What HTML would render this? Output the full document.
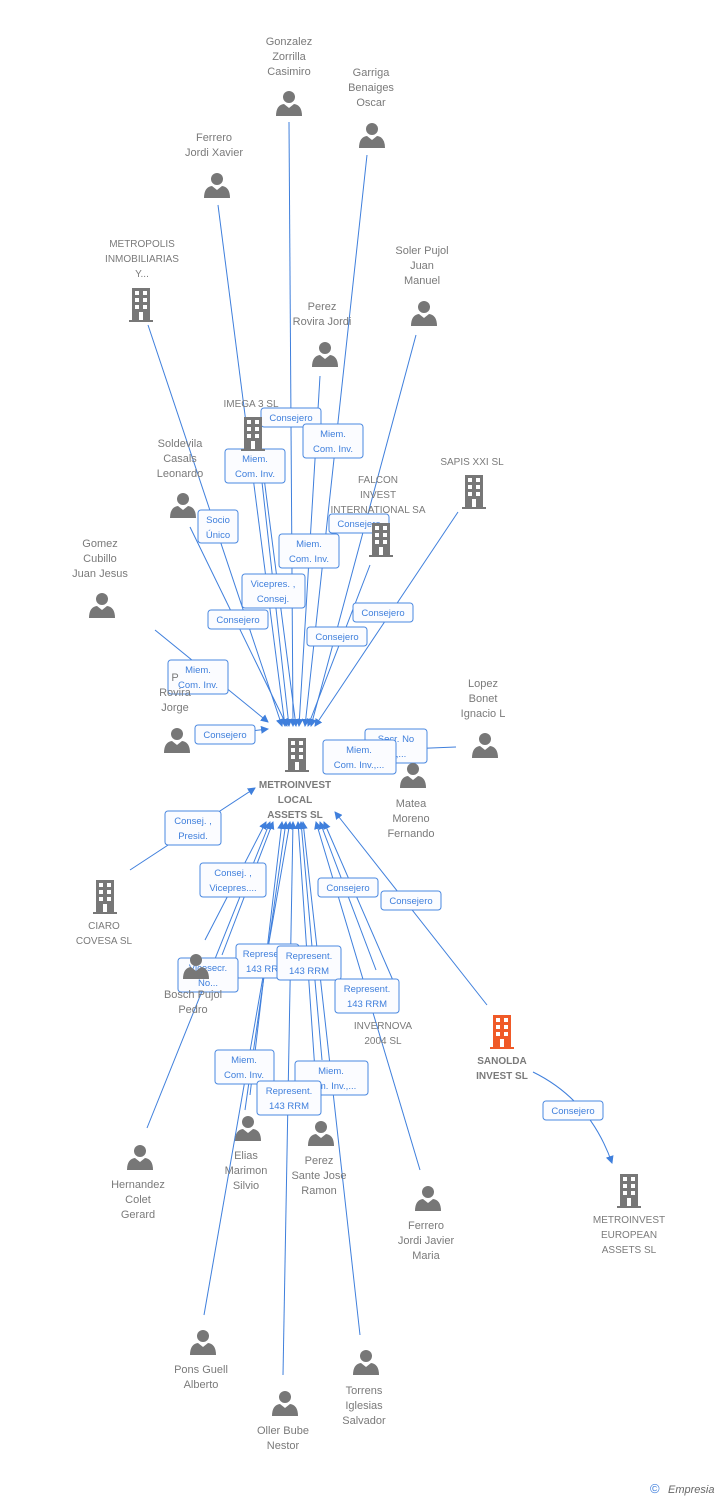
<!DOCTYPE html>
<html><head><meta charset="utf-8"><style>
html,body{margin:0;padding:0;background:#fff;}
svg{display:block;font-family:"Liberation Sans",sans-serif;}
.t{fill:#7a7a7a;font-size:11px;text-anchor:middle;}
.tb{fill:#7a7a7a;font-size:11px;text-anchor:middle;font-weight:bold;}
.l{stroke:#3f7fdc;stroke-width:1;fill:none;}
.bx{fill:#fbfcff;stroke:#4a88e0;stroke-width:1;}
.bt{fill:#3f7fdc;font-size:9.5px;text-anchor:middle;}
</style></head><body>
<svg width="728" height="1500" viewBox="0 0 728 1500">
<defs>
<symbol id="p" viewBox="0 0 26 26"><circle cx="13" cy="7" r="6" fill="#777"/><path d="M0 26 Q0 15 8 14 L13 18 L18 14 Q26 15 26 26Z" fill="#777"/></symbol>
<symbol id="b" viewBox="0 0 24 34"><rect x="3" y="0" width="18" height="32" fill="#777"/><rect x="0" y="32" width="24" height="2" fill="#777"/>
<g fill="#fff"><rect x="6" y="3" width="4" height="4"/><rect x="14" y="3" width="4" height="4"/><rect x="6" y="10" width="4" height="4"/><rect x="14" y="10" width="4" height="4"/><rect x="6" y="17" width="4" height="4"/><rect x="14" y="17" width="4" height="4"/><rect x="10" y="24" width="4" height="8"/></g></symbol>
<symbol id="bo" viewBox="0 0 24 34"><rect x="3" y="0" width="18" height="32" fill="#f05a28"/><rect x="0" y="32" width="24" height="2" fill="#f05a28"/>
<g fill="#fff"><rect x="6" y="3" width="4" height="4"/><rect x="14" y="3" width="4" height="4"/><rect x="6" y="10" width="4" height="4"/><rect x="14" y="10" width="4" height="4"/><rect x="6" y="17" width="4" height="4"/><rect x="14" y="17" width="4" height="4"/><rect x="10" y="24" width="4" height="8"/></g></symbol>
<marker id="a" markerWidth="8" markerHeight="8" refX="7" refY="4" orient="auto" markerUnits="userSpaceOnUse"><path d="M0 0 L8 4 L0 8Z" fill="#3f7fdc"/></marker>
</defs>

<!-- top edges -->
<g class="l" marker-end="url(#a)">
<line x1="289" y1="122" x2="293" y2="726"/>
<line x1="367" y1="155" x2="305" y2="726"/>
<line x1="218" y1="205" x2="285" y2="726"/>
<line x1="148" y1="325" x2="282" y2="726"/>
<line x1="416" y1="335" x2="311" y2="726"/>
<line x1="320" y1="376" x2="299" y2="726"/>
<line x1="259" y1="455" x2="289" y2="726"/>
<line x1="263" y1="470" x2="296" y2="726"/>
<line x1="190" y1="527" x2="287" y2="726"/>
<line x1="458" y1="512" x2="315" y2="726"/>
<line x1="370" y1="565" x2="308" y2="726"/>
<line x1="155" y1="630" x2="268" y2="722"/>
<line x1="200" y1="737" x2="268" y2="729"/>
<line x1="456" y1="747" x2="330" y2="752"/>
</g>
<!-- bottom edges -->
<g class="l" marker-end="url(#a)">
<line x1="130" y1="870" x2="255" y2="788"/>
<line x1="205" y1="940" x2="266" y2="822"/>
<line x1="222" y1="955" x2="273" y2="822"/>
<line x1="147" y1="1128" x2="270" y2="822"/>
<line x1="250" y1="1095" x2="282" y2="822"/>
<line x1="245" y1="1110" x2="286" y2="822"/>
<line x1="204" y1="1315" x2="290" y2="822"/>
<line x1="283" y1="1375" x2="293" y2="822"/>
<line x1="318" y1="1115" x2="298" y2="822"/>
<line x1="322" y1="1060" x2="301" y2="822"/>
<line x1="360" y1="1335" x2="303" y2="822"/>
<line x1="420" y1="1170" x2="316" y2="822"/>
<line x1="376" y1="970" x2="320" y2="822"/>
<line x1="395" y1="985" x2="324" y2="822"/>
<line x1="487" y1="1005" x2="335" y2="812"/>
<path d="M533 1072 Q590 1100 612 1163"/>
</g>

<!-- labels boxes -->
<g>
<rect class="bx" x="261" y="408" width="60" height="19" rx="3"/><text class="bt" x="291" y="421">Consejero</text>
<rect class="bx" x="303" y="424" width="60" height="34" rx="3"/><text class="bt" x="333" y="437">Miem.</text><text class="bt" x="333" y="452">Com. Inv.</text>
<rect class="bx" x="225" y="449" width="60" height="34" rx="3"/><text class="bt" x="255" y="462">Miem.</text><text class="bt" x="255" y="477">Com. Inv.</text>
<rect class="bx" x="198" y="510" width="40" height="33" rx="3"/><text class="bt" x="218" y="523">Socio</text><text class="bt" x="218" y="538">Único</text>
<rect class="bx" x="329" y="514" width="60" height="19" rx="3"/><text class="bt" x="359" y="527">Consejero</text>
<rect class="bx" x="279" y="534" width="60" height="34" rx="3"/><text class="bt" x="309" y="547">Miem.</text><text class="bt" x="309" y="562">Com. Inv.</text>
<rect class="bx" x="242" y="574" width="63" height="34" rx="3"/><text class="bt" x="273" y="587">Vicepres. ,</text><text class="bt" x="273" y="602">Consej.</text>
<rect class="bx" x="353" y="603" width="60" height="19" rx="3"/><text class="bt" x="383" y="616">Consejero</text>
<rect class="bx" x="208" y="610" width="60" height="19" rx="3"/><text class="bt" x="238" y="623">Consejero</text>
<rect class="bx" x="307" y="627" width="60" height="19" rx="3"/><text class="bt" x="337" y="640">Consejero</text>
<rect class="bx" x="168" y="660" width="60" height="34" rx="3"/><text class="bt" x="198" y="673">Miem.</text><text class="bt" x="198" y="688">Com. Inv.</text>
<rect class="bx" x="195" y="725" width="60" height="19" rx="3"/><text class="bt" x="225" y="738">Consejero</text>
<rect class="bx" x="365" y="729" width="62" height="34" rx="3"/><text class="bt" x="396" y="742">Secr.   No</text><text class="bt" x="396" y="757">ej.,...</text>
<rect class="bx" x="323" y="740" width="73" height="34" rx="3"/><text class="bt" x="359" y="753">Miem.</text><text class="bt" x="359" y="768">Com. Inv.,...</text>
<rect class="bx" x="165" y="811" width="56" height="34" rx="3"/><text class="bt" x="193" y="824">Consej. ,</text><text class="bt" x="193" y="839">Presid.</text>
<rect class="bx" x="200" y="863" width="66" height="34" rx="3"/><text class="bt" x="233" y="876">Consej. ,</text><text class="bt" x="233" y="891">Vicepres....</text>
<rect class="bx" x="318" y="878" width="60" height="19" rx="3"/><text class="bt" x="348" y="891">Consejero</text>
<rect class="bx" x="381" y="891" width="60" height="19" rx="3"/><text class="bt" x="411" y="904">Consejero</text>
<rect class="bx" x="236" y="944" width="63" height="34" rx="3"/><text class="bt" x="266" y="957">Represent.</text><text class="bt" x="266" y="972">143 RRM</text>
<rect class="bx" x="178" y="958" width="60" height="34" rx="3"/><text class="bt" x="208" y="971">Vicesecr.</text><text class="bt" x="208" y="986">No...</text>
<rect class="bx" x="277" y="946" width="64" height="34" rx="3"/><text class="bt" x="309" y="959">Represent.</text><text class="bt" x="309" y="974">143 RRM</text>
<rect class="bx" x="335" y="979" width="64" height="34" rx="3"/><text class="bt" x="367" y="992">Represent.</text><text class="bt" x="367" y="1007">143 RRM</text>
<rect class="bx" x="215" y="1050" width="59" height="34" rx="3"/><text class="bt" x="244" y="1063">Miem.</text><text class="bt" x="244" y="1078">Com. Inv.</text>
<rect class="bx" x="295" y="1061" width="73" height="34" rx="3"/><text class="bt" x="331" y="1074">Miem.</text><text class="bt" x="331" y="1089">Com. Inv.,...</text>
<rect class="bx" x="257" y="1081" width="64" height="34" rx="3"/><text class="bt" x="289" y="1094">Represent.</text><text class="bt" x="289" y="1109">143 RRM</text>
<rect class="bx" x="543" y="1101" width="60" height="19" rx="3"/><text class="bt" x="573" y="1114">Consejero</text>
</g>

<!-- nodes -->
<use href="#p" x="276" y="90" width="26" height="26"/>
<text class="t" x="289" y="45">Gonzalez</text><text class="t" x="289" y="60">Zorrilla</text><text class="t" x="289" y="75">Casimiro</text>
<use href="#p" x="359" y="122" width="26" height="26"/>
<text class="t" x="371" y="76">Garriga</text><text class="t" x="371" y="91">Benaiges</text><text class="t" x="371" y="106">Oscar</text>
<use href="#p" x="204" y="172" width="26" height="26"/>
<text class="t" x="214" y="141">Ferrero</text><text class="t" x="214" y="156">Jordi Xavier</text>
<use href="#b" x="129" y="288" width="24" height="34"/>
<text class="t" x="142" y="247" style="font-size:10px">METROPOLIS</text><text class="t" x="142" y="262" style="font-size:10px">INMOBILIARIAS</text><text class="t" x="142" y="277" style="font-size:10px">Y...</text>
<use href="#p" x="411" y="300" width="26" height="26"/>
<text class="t" x="422" y="254">Soler Pujol</text><text class="t" x="422" y="269">Juan</text><text class="t" x="422" y="284">Manuel</text>
<use href="#p" x="312" y="341" width="26" height="26"/>
<text class="t" x="322" y="310">Perez</text><text class="t" x="322" y="325">Rovira Jordi</text>
<use href="#b" x="241" y="417" width="24" height="34"/>
<text class="t" x="251" y="407" style="font-size:10px">IMEGA 3 SL</text>
<use href="#p" x="170" y="492" width="26" height="26"/>
<text class="t" x="180" y="447">Soldevila</text><text class="t" x="180" y="462">Casals</text><text class="t" x="180" y="477">Leonardo</text>
<use href="#b" x="462" y="475" width="24" height="34"/>
<text class="t" x="472" y="465" style="font-size:10px">SAPIS XXI SL</text>
<use href="#b" x="369" y="523" width="24" height="34"/>
<text class="t" x="378" y="483" style="font-size:10px">FALCON</text><text class="t" x="378" y="498" style="font-size:10px">INVEST</text><text class="t" x="378" y="513" style="font-size:10px">INTERNATIONAL SA</text>
<use href="#p" x="89" y="592" width="26" height="26"/>
<text class="t" x="100" y="547">Gomez</text><text class="t" x="100" y="562">Cubillo</text><text class="t" x="100" y="577">Juan Jesus</text>
<use href="#p" x="164" y="727" width="26" height="26"/>
<text class="t" x="175" y="681">P</text><text class="t" x="175" y="696">Rovira</text><text class="t" x="175" y="711">Jorge</text>
<use href="#p" x="472" y="732" width="26" height="26"/>
<text class="t" x="483" y="687">Lopez</text><text class="t" x="483" y="702">Bonet</text><text class="t" x="483" y="717">Ignacio L</text>
<use href="#p" x="400" y="762" width="26" height="26"/>
<text class="t" x="411" y="807">Matea</text><text class="t" x="411" y="822">Moreno</text><text class="t" x="411" y="837">Fernando</text>
<use href="#b" x="285" y="738" width="24" height="34"/>
<text class="tb" x="295" y="788" style="font-size:10px">METROINVEST</text><text class="tb" x="295" y="803" style="font-size:10px">LOCAL</text><text class="tb" x="295" y="818" style="font-size:10px">ASSETS SL</text>
<use href="#b" x="93" y="880" width="24" height="34"/>
<text class="t" x="104" y="929" style="font-size:10px">CIARO</text><text class="t" x="104" y="944" style="font-size:10px">COVESA SL</text>
<use href="#p" x="183" y="953" width="26" height="26"/>
<text class="t" x="193" y="998">Bosch Pujol</text><text class="t" x="193" y="1013">Pedro</text>
<text class="t" x="383" y="1029" style="font-size:10px">INVERNOVA</text><text class="t" x="383" y="1044" style="font-size:10px">2004  SL</text>
<use href="#bo" x="490" y="1015" width="24" height="34"/>
<text class="tb" x="502" y="1064" style="font-size:10px">SANOLDA</text><text class="tb" x="502" y="1079" style="font-size:10px">INVEST SL</text>
<use href="#p" x="127" y="1144" width="26" height="26"/>
<text class="t" x="138" y="1188">Hernandez</text><text class="t" x="138" y="1203">Colet</text><text class="t" x="138" y="1218">Gerard</text>
<use href="#p" x="235" y="1115" width="26" height="26"/>
<text class="t" x="246" y="1159">Elias</text><text class="t" x="246" y="1174">Marimon</text><text class="t" x="246" y="1189">Silvio</text>
<use href="#p" x="308" y="1120" width="26" height="26"/>
<text class="t" x="319" y="1164">Perez</text><text class="t" x="319" y="1179">Sante Jose</text><text class="t" x="319" y="1194">Ramon</text>
<use href="#p" x="415" y="1185" width="26" height="26"/>
<text class="t" x="426" y="1229">Ferrero</text><text class="t" x="426" y="1244">Jordi Javier</text><text class="t" x="426" y="1259">Maria</text>
<use href="#b" x="617" y="1174" width="24" height="34"/>
<text class="t" x="629" y="1223" style="font-size:10px">METROINVEST</text><text class="t" x="629" y="1238" style="font-size:10px">EUROPEAN</text><text class="t" x="629" y="1253" style="font-size:10px">ASSETS SL</text>
<use href="#p" x="190" y="1329" width="26" height="26"/>
<text class="t" x="201" y="1373">Pons Guell</text><text class="t" x="201" y="1388">Alberto</text>
<use href="#p" x="353" y="1349" width="26" height="26"/>
<text class="t" x="364" y="1394">Torrens</text><text class="t" x="364" y="1409">Iglesias</text><text class="t" x="364" y="1424">Salvador</text>
<use href="#p" x="272" y="1390" width="26" height="26"/>
<text class="t" x="283" y="1434">Oller Bube</text><text class="t" x="283" y="1449">Nestor</text>
<text x="650" y="1493" style="fill:#3f7fdc;font-size:13px">©</text><text x="668" y="1493" style="fill:#666;font-size:11px;font-style:italic">Empresia</text>
</svg>
</body></html>
